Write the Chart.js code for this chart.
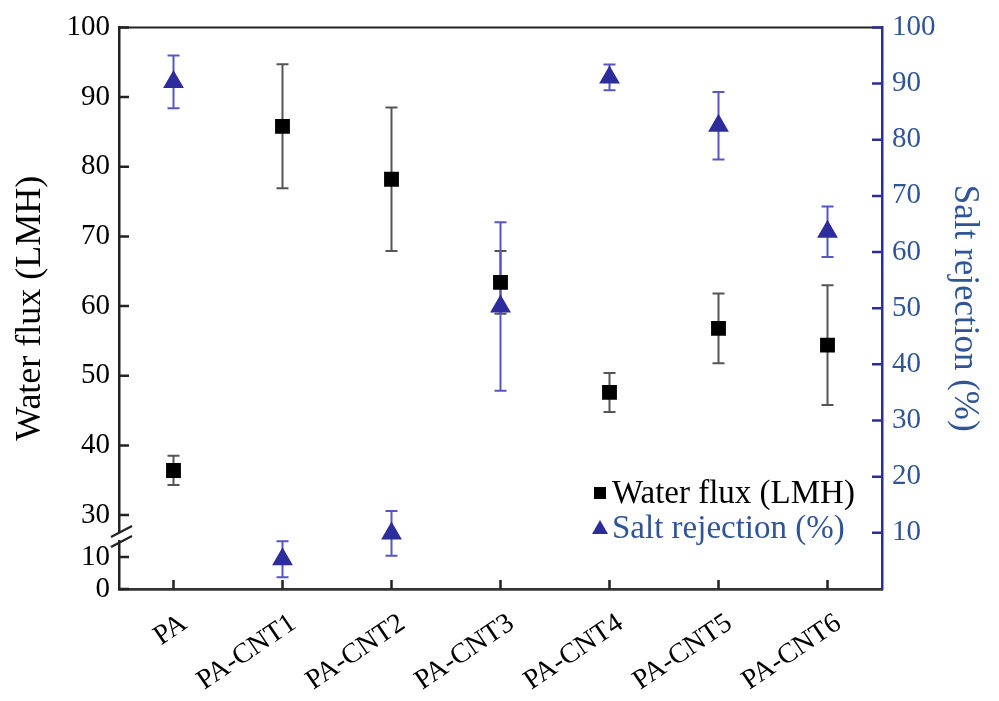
<!DOCTYPE html>
<html>
<head>
<meta charset="utf-8">
<script src="https://cdn.jsdelivr.net/npm/chart.js@4.4.0/dist/chart.umd.min.js"></script>
<style>
  html, body { margin: 0; padding: 0; background: #fff; }
  #wrap { width: 999px; height: 701px; }
</style>
</head>
<body>
<div id="wrap"><canvas id="fluxChart"></canvas></div>
<script>
// data
const categories = ['PA', 'PA-CNT1', 'PA-CNT2', 'PA-CNT3', 'PA-CNT4', 'PA-CNT5', 'PA-CNT6'];
const waterFlux = [36.4, 85.8, 78.2, 63.4, 47.6, 56.8, 54.4];
const waterFluxErr = [2.1, 8.9, 10.3, 4.5, 2.8, 5.0, 8.6];
const saltRejection = [90.3, 5.3, 9.9, 50.3, 91.1, 82.5, 63.6];
const saltRejectionErr = [4.7, 3.2, 4.0, 15.0, 2.3, 6.0, 4.5];
const fluxTicks = [0, 10, 30, 40, 50, 60, 70, 80, 90, 100];
const rejectionTicks = [10, 20, 30, 40, 50, 60, 70, 80, 90, 100];

const BLUE_AXIS = '#2c2c9c';
const BLUE_TEXT = '#2f5596';
const SERIF = '"Liberation Serif", "Times New Roman", serif';

// linear axis with a gap between breakLow and breakHigh
class BrokenScale extends Chart.LinearScale {
    toFrac(v) {
        const o = this.options;
        if (v <= o.breakLow) return (v - this.min) / (o.breakLow - this.min) * o.breakLowFrac;
        if (v <= o.breakHigh) return o.breakLowFrac + (v - o.breakLow) / (o.breakHigh - o.breakLow) * (o.breakHighFrac - o.breakLowFrac);
        return o.breakHighFrac + (v - o.breakHigh) / (this.max - o.breakHigh) * (1 - o.breakHighFrac);
    }
    fromFrac(d) {
        const o = this.options;
        if (d <= o.breakLowFrac) return this.min + d / o.breakLowFrac * (o.breakLow - this.min);
        if (d <= o.breakHighFrac) return o.breakLow + (d - o.breakLowFrac) / (o.breakHighFrac - o.breakLowFrac) * (o.breakHigh - o.breakLow);
        return o.breakHigh + (d - o.breakHighFrac) / (1 - o.breakHighFrac) * (this.max - o.breakHigh);
    }
    getPixelForValue(v) {
        if (v === null || v === undefined || isNaN(v)) return NaN;
        return this.getPixelForDecimal(this.toFrac(v));
    }
    getValueForPixel(p) {
        return this.fromFrac(this.getDecimalForPixel(p));
    }
}
BrokenScale.id = 'broken';
BrokenScale.defaults = Chart.LinearScale.defaults;
Chart.register(BrokenScale);

// error bars, drawn under the markers
const errorBars = {
    id: 'errorBars',
    beforeDatasetsDraw(chart) {
        const ctx = chart.ctx;
        chart.data.datasets.forEach((ds, di) => {
            const meta = chart.getDatasetMeta(di);
            const ys = chart.scales[ds.yAxisID];
            ctx.save();
            ctx.strokeStyle = ds.errorColor;
            ctx.lineWidth = 2;
            meta.data.forEach((pt, i) => {
                const v = ds.data[i], e = ds.errors[i];
                const top = ys.getPixelForValue(v + e);
                const bot = ys.getPixelForValue(v - e);
                ctx.beginPath();
                ctx.moveTo(pt.x, top); ctx.lineTo(pt.x, bot);
                ctx.moveTo(pt.x - 6, top); ctx.lineTo(pt.x + 6, top);
                ctx.moveTo(pt.x - 6, bot); ctx.lineTo(pt.x + 6, bot);
                ctx.stroke();
            });
            ctx.restore();
        });
    }
};

// frame top line, inward ticks, axis break, inner legend
const decorations = {
    id: 'decorations',
    afterDraw(chart) {
        const ctx = chart.ctx;
        const a = chart.chartArea;
        const y = chart.scales.y, y1 = chart.scales.y1, x = chart.scales.x;
        ctx.save();
        ctx.lineCap = 'butt';
        // top line
        ctx.strokeStyle = '#222';
        ctx.lineWidth = 2;
        ctx.beginPath(); ctx.moveTo(a.left, a.top); ctx.lineTo(a.right, a.top); ctx.stroke();
        // left ticks
        ctx.lineWidth = 2.5;
        ctx.beginPath();
        fluxTicks.forEach(v => { const p = y.getPixelForValue(v); ctx.moveTo(a.left, p); ctx.lineTo(a.left + 10, p); });
        // bottom ticks
        categories.forEach((c, i) => { const p = x.getPixelForValue(i); ctx.moveTo(p, a.bottom); ctx.lineTo(p, a.bottom - 9); });
        ctx.stroke();
        // right ticks
        ctx.strokeStyle = BLUE_AXIS;
        ctx.beginPath();
        rejectionTicks.forEach(v => { const p = y1.getPixelForValue(v); ctx.moveTo(a.right - 10, p); ctx.lineTo(a.right, p); });
        ctx.stroke();
        // axis break
        const bp = y.getPixelForValue((y.options.breakLow + y.options.breakHigh) / 2);
        ctx.fillStyle = '#fff';
        ctx.fillRect(a.left - 3, bp - 4, 6, 8);
        ctx.strokeStyle = '#222';
        ctx.lineWidth = 2.2;
        ctx.beginPath();
        ctx.moveTo(a.left - 8, bp + 1); ctx.lineTo(a.left + 13, bp - 10);
        ctx.moveTo(a.left - 8, bp + 11); ctx.lineTo(a.left + 13, bp);
        ctx.stroke();
        // legend
        const lx = a.right - 282, ly = a.bottom - 96;
        const ds = chart.data.datasets;
        ctx.font = '33px ' + SERIF;
        ctx.textBaseline = 'middle';
        ctx.fillStyle = '#000';
        ctx.fillRect(lx - 6, ly - 6, 12, 12);
        ctx.fillText(ds[0].label, lx + 12, ly + 1);
        ctx.fillStyle = BLUE_AXIS;
        ctx.beginPath();
        ctx.moveTo(lx, ly + 27); ctx.lineTo(lx + 8, ly + 41); ctx.lineTo(lx - 8, ly + 41); ctx.closePath();
        ctx.fill();
        ctx.fillStyle = BLUE_TEXT;
        ctx.fillText(ds[1].label, lx + 12, ly + 36);
        ctx.restore();
    }
};

new Chart(document.getElementById('fluxChart'), {
    type: 'line',
    data: {
        labels: categories,
        datasets: [{
            label: 'Water flux (LMH)',
            data: waterFlux,
            errors: waterFluxErr,
            errorColor: '#555',
            yAxisID: 'y',
            showLine: false,
            pointStyle: 'rect',
            pointRadius: 10.5,
            pointBackgroundColor: '#000',
            pointBorderWidth: 0
        }, {
            label: 'Salt rejection (%)',
            data: saltRejection,
            errors: saltRejectionErr,
            errorColor: '#5656c4',
            yAxisID: 'y1',
            showLine: false,
            pointStyle: 'triangle',
            pointRadius: 12,
            pointBackgroundColor: BLUE_AXIS,
            pointBorderWidth: 0
        }]
    },
    options: {
        responsive: true,
        maintainAspectRatio: false,
        animation: false,
        devicePixelRatio: 1,
        layout: { padding: { top: 27, left: 0, right: 0, bottom: 0 } },
        plugins: { legend: { display: false }, tooltip: { enabled: false } },
        scales: {
            x: {
                type: 'category',
                offset: true,
                grid: { display: false, drawTicks: false },
                border: { display: true, color: '#333', width: 2.8 },
                ticks: {
                    autoSkip: false, maxRotation: 34, minRotation: 34,
                    padding: 18, labelOffset: 11, color: '#000',
                    font: { family: SERIF, size: 28 }
                },
                afterFit: s => { s.height = 112; }
            },
            y: {
                type: 'broken',
                position: 'left',
                min: 0, max: 100,
                breakLow: 10, breakHigh: 30,
                breakLowFrac: 32 / 562, breakHighFrac: 74 / 562,
                grid: { display: false, drawTicks: false },
                border: { display: true, color: '#222', width: 2.5 },
                afterBuildTicks: s => { s.ticks = fluxTicks.map(v => ({ value: v })); },
                ticks: { padding: 9, color: '#000', font: { family: SERIF, size: 29 }, callback: v => String(v) },
                title: { display: true, text: 'Water flux (LMH)', color: '#000', font: { family: SERIF, size: 36 }, padding: { top: 9 } },
                afterFit: s => { s.width = 119; }
            },
            y1: {
                type: 'linear',
                position: 'right',
                min: 0, max: 100,
                grid: { display: false, drawTicks: false },
                border: { display: true, color: BLUE_AXIS, width: 2.5 },
                afterBuildTicks: s => { s.ticks = rejectionTicks.map(v => ({ value: v })); },
                ticks: { padding: 10, color: BLUE_TEXT, font: { family: SERIF, size: 29 }, callback: v => String(v) },
                title: { display: true, text: 'Salt rejection (%)', color: BLUE_TEXT, font: { family: SERIF, size: 35 }, padding: { top: 14 } },
                afterFit: s => { s.width = 117; }
            }
        }
    },
    plugins: [errorBars, decorations]
});
</script>
</body>
</html>
